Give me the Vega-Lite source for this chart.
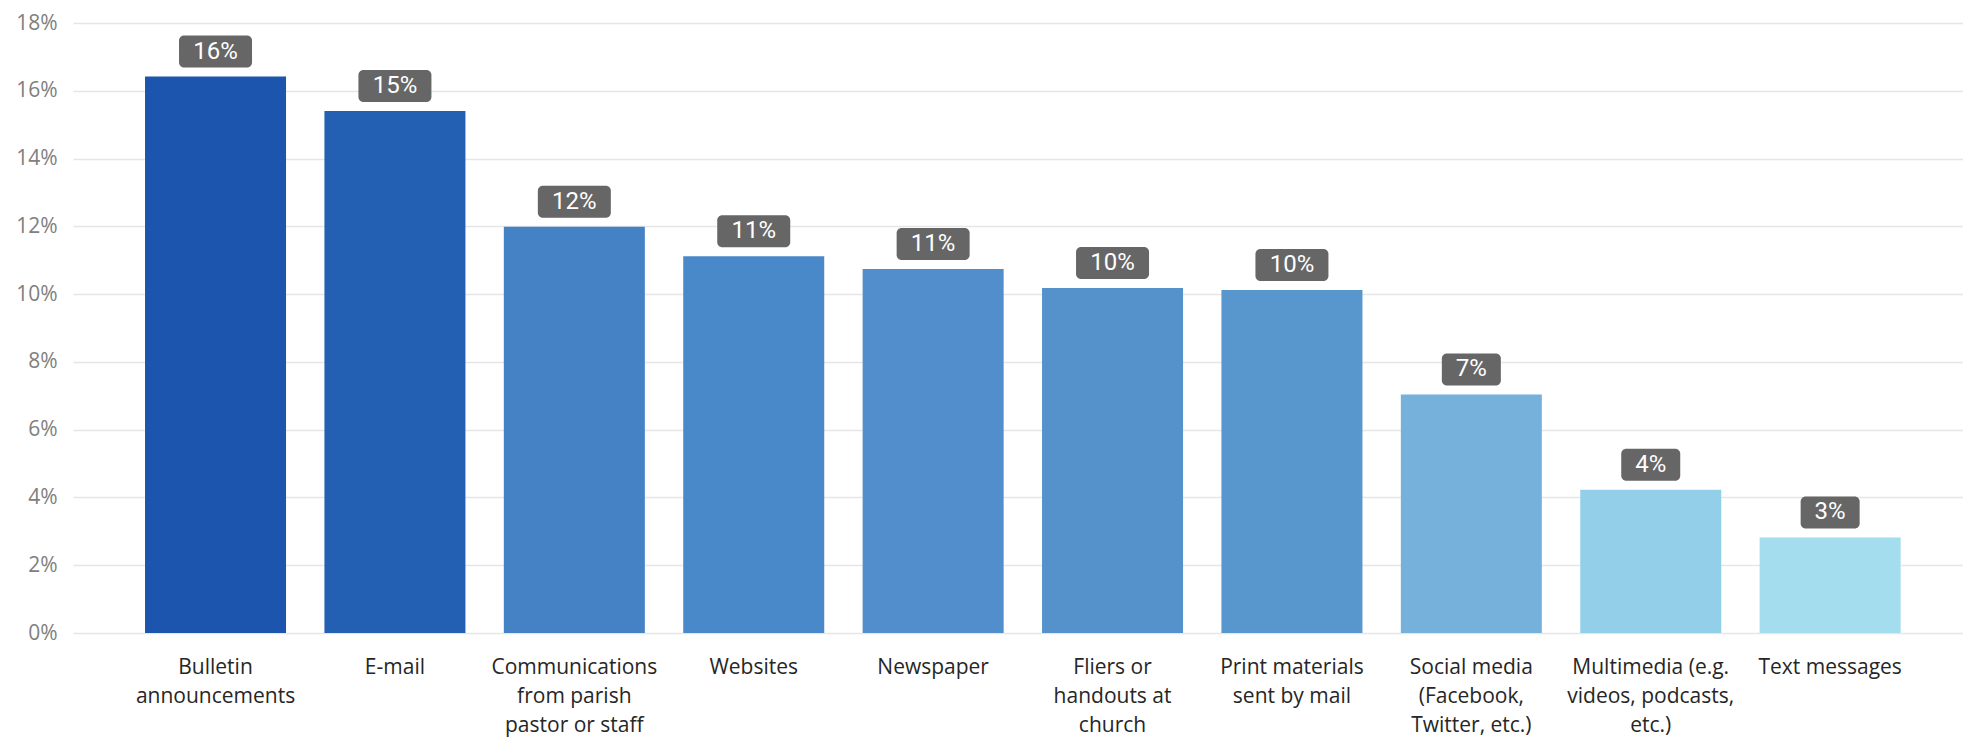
{
  "$schema": "https://vega.github.io/schema/vega-lite/v6.json",
  "width": 1890,
  "height": 610,
  "autosize": {"type": "none"},
  "padding": {"left": 73, "top": 23, "right": 0, "bottom": 106},
  "background": "white",
  "config": {"view": {"stroke": null}},
  "data": {
    "values": [
      {"channel": "Bulletin|announcements", "share": 0.1642},
      {"channel": "E-mail", "share": 0.1540},
      {"channel": "Communications|from parish|pastor or staff", "share": 0.1199},
      {"channel": "Websites", "share": 0.1112},
      {"channel": "Newspaper", "share": 0.1074},
      {"channel": "Fliers or|handouts at|church", "share": 0.1018},
      {"channel": "Print materials|sent by mail", "share": 0.1012},
      {"channel": "Social media|(Facebook,|Twitter, etc.)", "share": 0.0704},
      {"channel": "Multimedia (e.g.|videos, podcasts,|etc.)", "share": 0.0423},
      {"channel": "Text messages", "share": 0.0282}
    ]
  },
  "encoding": {
    "x": {
      "field": "channel",
      "type": "nominal",
      "sort": null,
      "scale": {"paddingInner": 0.214, "paddingOuter": 0.3745, "align": 0.536},
      "axis": {
        "title": null,
        "domain": false,
        "ticks": false,
        "grid": false,
        "labelAngle": 0,
        "labelFont": "Open Sans",
        "labelFontSize": 21,
        "labelColor": "#262626",
        "labelPadding": 23,
        "labelLineHeight": 29,
        "labelBaseline": "top",
        "labelLimit": 0,
        "labelOverlap": false,
        "labelExpr": "split(datum.label, '|')"
      }
    },
    "y": {
      "field": "share",
      "type": "quantitative",
      "scale": {"domain": [0, 0.18], "nice": false},
      "axis": {
        "title": null,
        "values": [0, 0.02, 0.04, 0.06, 0.08, 0.1, 0.12, 0.14, 0.16, 0.18],
        "format": ".0%",
        "domain": false,
        "ticks": false,
        "grid": true,
        "gridColor": "#e6e6e6",
        "gridWidth": 1.5,
        "labelFont": "Open Sans",
        "labelFontSize": 21,
        "labelColor": "#808080",
        "labelPadding": 16
      }
    }
  },
  "layer": [
    {
      "mark": {"type": "bar"},
      "encoding": {
        "color": {
          "field": "channel",
          "type": "nominal",
          "legend": null,
          "scale": {
            "domain": [
              "Bulletin|announcements",
              "E-mail",
              "Communications|from parish|pastor or staff",
              "Websites",
              "Newspaper",
              "Fliers or|handouts at|church",
              "Print materials|sent by mail",
              "Social media|(Facebook,|Twitter, etc.)",
              "Multimedia (e.g.|videos, podcasts,|etc.)",
              "Text messages"
            ],
            "range": ["#1b55ae", "#2360b4", "#4581c5", "#4a89c9", "#518ecb", "#5592cc", "#5896ce", "#76b1dc", "#93cfe9", "#a3ddee"]
          }
        }
      }
    },
    {
      "transform": [{"filter": "datum.share >= 0.095"}],
      "mark": {"type": "bar", "width": 73, "cornerRadius": 5, "color": "#666666", "yOffset": -41, "y2Offset": -9},
      "encoding": {"y2": {"field": "share"}}
    },
    {
      "transform": [{"filter": "datum.share < 0.095"}],
      "mark": {"type": "bar", "width": 59, "cornerRadius": 5, "color": "#666666", "yOffset": -41, "y2Offset": -9},
      "encoding": {"y2": {"field": "share"}}
    },
    {
      "mark": {"type": "text", "dy": -25, "baseline": "middle", "align": "center", "color": "#ffffff", "font": "Roboto", "fontSize": 24},
      "encoding": {"text": {"field": "share", "type": "quantitative", "format": ".0%"}}
    }
  ]
}
